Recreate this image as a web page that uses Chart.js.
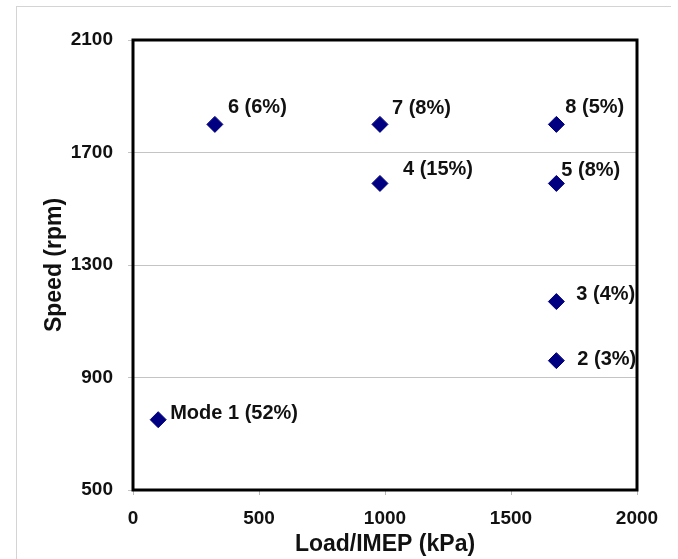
<!DOCTYPE html>
<html>
<head>
<meta charset="utf-8">
<script src="https://cdn.jsdelivr.net/npm/chart.js@4"></script>
<style>
	body { margin: 0; background: #fff; }
	#wrap { position: relative; width: 678px; height: 559px; }
	#frame { position: absolute; left: 16px; top: 6px; width: 654px; height: 560px;
		border-top: 1px solid #d4d4d4; border-left: 1px solid #d4d4d4; }
</style>
</head>
<body>
<div id="wrap">
	<div id="frame"></div>
	<canvas id="modesChart"></canvas>
</div>
<script>
// operating modes (load vs speed)
var loadValues = [100, 1680, 1680, 980, 1680, 325, 980, 1680];
var speedValues = [750, 960, 1170, 1590, 1590, 1800, 1800, 1800];
var pointLabels = ['Mode 1 (52%)', '2 (3%)', '3 (4%)', '4 (15%)', '5 (8%)', '6 (6%)', '7 (8%)', '8 (5%)'];

var xTicks = [0, 500, 1000, 1500, 2000];
var yTicks = [500, 900, 1300, 1700, 2100];

// label placement next to each marker (px)
var labelOffsets = [[12, -6], [21, -1], [20, -7], [23, -14], [5, -13], [13, -17], [12, -16], [9, -17]];

var fontFamily = '"Liberation Sans", Arial, sans-serif';

var points = loadValues.map(function (x, i) {
	return { x: x, y: speedValues[i] };
});

var boxAndLabels = {
	id: 'boxAndLabels',
	afterDatasetsDraw: function (chart) {
		var ctx = chart.ctx;
		var meta = chart.getDatasetMeta(0);
		ctx.save();
		ctx.font = 'bold 20px ' + fontFamily;
		ctx.fillStyle = '#111';
		ctx.textAlign = 'left';
		ctx.textBaseline = 'middle';
		meta.data.forEach(function (pt, i) {
			ctx.fillText(pointLabels[i], pt.x + labelOffsets[i][0], pt.y + labelOffsets[i][1]);
		});
		ctx.restore();
	},
	afterDraw: function (chart) {
		var a = chart.chartArea;
		var ctx = chart.ctx;
		ctx.save();
		ctx.strokeStyle = '#000';
		ctx.lineWidth = 3;
		ctx.strokeRect(a.left, a.top, a.right - a.left, a.bottom - a.top);
		ctx.restore();
	}
};

function plainTick(value) {
	return String(value);
}

new Chart(document.getElementById('modesChart').getContext('2d'), {
	type: 'scatter',
	data: {
		datasets: [
			{
				label: 'Modes',
				data: points,
				pointStyle: 'rectRot',
				pointRadius: 8,
				pointHoverRadius: 8,
				backgroundColor: '#000080',
				borderColor: '#000080',
				borderWidth: 1,
			},
		],
	},
	options: {
		responsive: true,
		maintainAspectRatio: false,
		animation: false,
		layout: {
			padding: { left: 37, top: 40, right: 41, bottom: 1 },
		},
		plugins: {
			legend: { display: false },
			tooltip: { enabled: false },
		},
		scales: {
			x: {
				type: 'linear',
				min: 0,
				max: 2000,
				afterBuildTicks: function (axis) {
					axis.ticks = xTicks.map(function (v) { return { value: v }; });
				},
				afterFit: function (axis) { axis.height = 68; },
				grid: {
					drawOnChartArea: false,
					drawTicks: true,
					tickLength: 5,
					color: '#b8b8b8',
				},
				border: { display: false },
				ticks: {
					padding: 12,
					color: '#111',
					callback: plainTick,
					font: { family: fontFamily, size: 19, weight: 'bold' },
				},
				title: {
					display: true,
					text: 'Load/IMEP (kPa)',
					color: '#111',
					padding: { top: 0, bottom: 0 },
					font: { family: fontFamily, size: 23, weight: 'bold' },
				},
			},
			y: {
				type: 'linear',
				min: 500,
				max: 2100,
				afterBuildTicks: function (axis) {
					axis.ticks = yTicks.map(function (v) { return { value: v }; });
				},
				afterFit: function (axis) { axis.width = 96; },
				grid: {
					drawTicks: true,
					tickLength: 5,
					color: '#c4c4c4',
				},
				border: { display: false },
				ticks: {
					padding: 15,
					color: '#111',
					callback: plainTick,
					font: { family: fontFamily, size: 19, weight: 'bold' },
				},
				title: {
					display: true,
					text: 'Speed (rpm)',
					color: '#111',
					font: { family: fontFamily, size: 23, weight: 'bold' },
				},
			},
		},
	},
	plugins: [boxAndLabels],
});
</script>
</body>
</html>
